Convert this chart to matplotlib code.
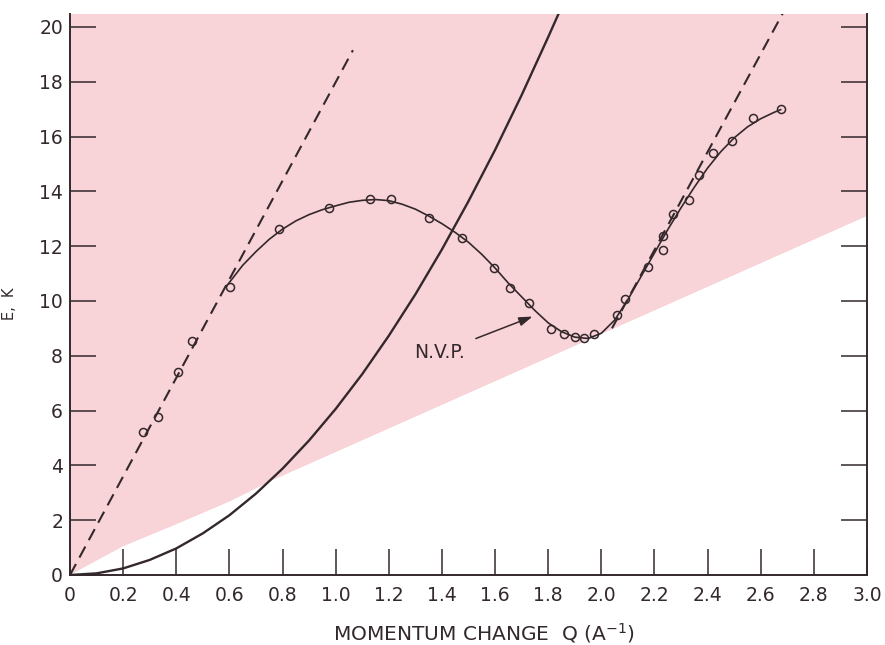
import numpy as np
import matplotlib
matplotlib.use("Agg")
import matplotlib.pyplot as plt

# measured points (open circles)
pts_q = [0.276, 0.33, 0.405, 0.461, 0.602, 0.787, 0.975, 1.128, 1.209, 1.353,
         1.476, 1.595, 1.658, 1.727, 1.811, 1.858, 1.902, 1.936, 1.974, 2.059,
         2.09, 2.174, 2.234, 2.233, 2.271, 2.331, 2.366, 2.422, 2.491, 2.571, 2.675]
pts_e = [5.23, 5.78, 7.42, 8.55, 10.52, 12.62, 13.38, 13.71, 13.72, 13.04,
         12.31, 11.19, 10.49, 9.94, 8.97, 8.80, 8.67, 8.64, 8.78, 9.49,
         10.06, 11.25, 11.86, 12.37, 13.16, 13.69, 14.6, 15.41, 15.84, 16.67, 17.0]

# smooth curve through the points
fit_q = [0.59, 0.65, 0.70, 0.75, 0.80, 0.85, 0.90, 0.95, 1.00, 1.05, 1.10, 1.15,
         1.20, 1.25, 1.30, 1.35, 1.40, 1.45, 1.50, 1.55, 1.60, 1.65, 1.70, 1.75,
         1.80, 1.85, 1.90, 1.95, 2.00, 2.05, 2.10, 2.15, 2.20, 2.25, 2.30, 2.35,
         2.40, 2.45, 2.50, 2.55, 2.60, 2.65, 2.675]
fit_e = [10.55, 11.3, 11.8, 12.25, 12.62, 12.92, 13.15, 13.33, 13.47, 13.6, 13.67, 13.7,
         13.66, 13.53, 13.35, 13.1, 12.82, 12.5, 12.14, 11.7, 11.2, 10.65, 10.15, 9.65,
         9.2, 8.88, 8.68, 8.63, 8.82, 9.3, 10.05, 10.9, 11.75, 12.6, 13.4, 14.15,
         14.85, 15.45, 15.95, 16.35, 16.65, 16.88, 16.98]

# free particle curve
free_q = [0.0, 0.1, 0.2, 0.3, 0.4, 0.5, 0.6, 0.7, 0.8, 0.9, 1.0, 1.1, 1.2,
          1.3, 1.4, 1.5, 1.6, 1.7, 1.8, 1.84]
free_e = [0.0, 0.06, 0.24, 0.55, 0.97, 1.52, 2.18, 2.97, 3.88, 4.91, 6.06, 7.33, 8.73,
          10.24, 11.88, 13.64, 15.51, 17.51, 19.63, 20.5]

# dashed straight lines
phonon_q = [0.0, 1.065]
phonon_e = [0.0, 19.15]
umk_q = [2.04, 2.70]
umk_e = [9.0, 20.8]

# lower edge of the pink region
pink_q = [0.0, 0.2, 0.4, 0.6, 0.76, 3.0]
pink_e = [0.0, 1.05, 1.85, 2.68, 3.45, 13.1]

xticks = [0.0, 0.2, 0.4, 0.6, 0.8, 1.0, 1.2, 1.4, 1.6, 1.8, 2.0, 2.2, 2.4, 2.6, 2.8, 3.0]
xlabels = ["0", "0.2", "0.4", "0.6", "0.8", "1.0", "1.2", "1.4", "1.6", "1.8",
           "2.0", "2.2", "2.4", "2.6", "2.8", "3.0"]
yticks = [0, 2, 4, 6, 8, 10, 12, 14, 16, 18, 20]

ink = "#33282b"
pink = "#f8d3d8"
ytop = 20.47

fig = plt.figure(figsize=(8.85, 6.45), dpi=100)
ax = fig.add_axes([70 / 885, 70 / 645, 797 / 885, 561 / 645])

# pink region above the lower edge
poly_q = pink_q + [3.0, 0.0]
poly_e = pink_e + [ytop, ytop]
ax.fill(poly_q, poly_e, color=pink, lw=0, zorder=0)

ax.plot(phonon_q, phonon_e, color=ink, lw=1.5, dashes=(6, 3.5), zorder=2)
ax.plot(umk_q, umk_e, color=ink, lw=1.5, dashes=(6, 3.5), zorder=2)
ax.plot(free_q, free_e, color=ink, lw=1.7, zorder=2)
ax.plot(fit_q, fit_e, color=ink, lw=1.2, zorder=3)
ax.plot(pts_q, pts_e, 'o', ms=5.8, mfc='none', mec=ink, mew=1.1, zorder=4)

ax.annotate("N.V.P.", xy=(1.741, 9.43), xytext=(1.297, 8.12),
            fontsize=13.5, color=ink, va='center', ha='left',
            arrowprops=dict(arrowstyle='-|>,head_length=0.6,head_width=0.2',
                            color=ink, lw=1.1, shrinkA=6, shrinkB=0))

ax.set_xlim(0, 3.0)
ax.set_ylim(0, ytop)
ax.set_xticks(xticks)
ax.set_xticklabels(xlabels)
ax.set_yticks(yticks)
ax.set_yticklabels([str(v) for v in yticks])

ax.spines['top'].set_visible(False)
for s in ['left', 'right', 'bottom']:
    ax.spines[s].set_color(ink)
    ax.spines[s].set_linewidth(1.4)

ax.tick_params(axis='both', direction='in', length=19, width=1.1, color=ink,
               labelcolor=ink, labelsize=13.5)
ax.tick_params(axis='x', pad=8)
ax.tick_params(axis='y', right=True, labelright=False, pad=5)

ax.set_xlabel("MOMENTUM CHANGE  Q (A$^{-1}$)", fontsize=14.5, color=ink)
ax.xaxis.set_label_coords(0.519, -0.082)
ax.set_ylabel("E,  K", fontsize=10.5, color=ink)
ax.yaxis.set_label_coords(-0.066, 0.483)

fig.savefig("out.png", dpi=100)
